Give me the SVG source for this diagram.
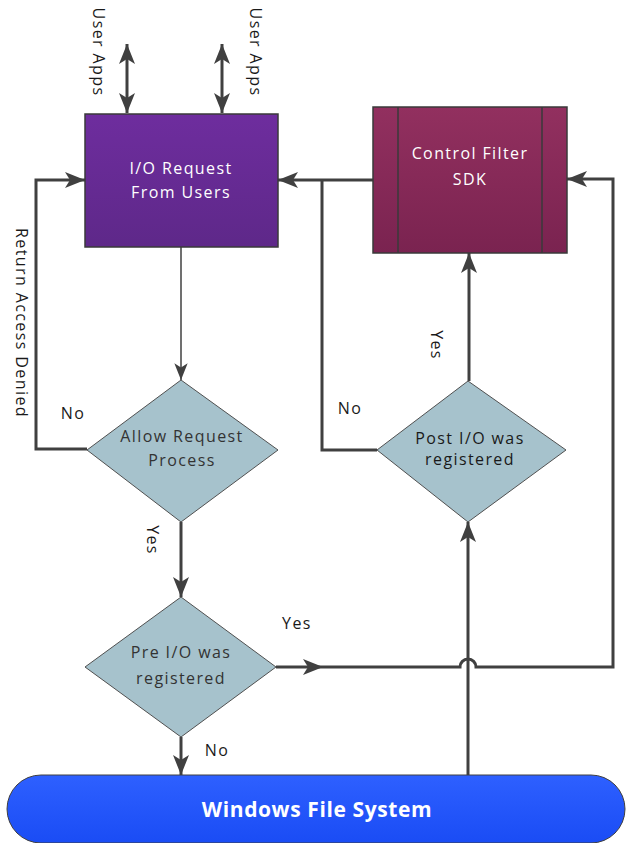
<svg xmlns="http://www.w3.org/2000/svg" width="626" height="843" viewBox="0 0 626 843">
<style>
.ln{fill:none;stroke:#404040;stroke-width:3}
.thin{fill:none;stroke:#404040;stroke-width:1.5}
.t{font-family:"Open Sans","DejaVu Sans",sans-serif;font-size:16px;letter-spacing:1.4px;text-anchor:middle}
.wt{fill:#ffffff}
.dk{fill:#333333}
.lb{fill:#1a1a1a}
.dia{fill:#a6c2cc;stroke:#505050;stroke-width:1}
</style>
<defs>
<linearGradient id="gp" x1="0" y1="0" x2="0" y2="1"><stop offset="0" stop-color="#6e2d9e"/><stop offset="1" stop-color="#5e2889"/></linearGradient>
<linearGradient id="gm" x1="0" y1="0" x2="0" y2="1"><stop offset="0" stop-color="#92305f"/><stop offset="1" stop-color="#7a2350"/></linearGradient>
<linearGradient id="gb" x1="0" y1="0" x2="0" y2="1"><stop offset="0" stop-color="#2e60ff"/><stop offset="1" stop-color="#1a4cf5"/></linearGradient>
<marker id="ah" viewBox="-20 -9 21 18" refX="0" refY="0" markerWidth="21" markerHeight="18" markerUnits="userSpaceOnUse" orient="auto-start-reverse">
<path d="M0,0 L-20,-8 L-15,0 L-20,8 Z" fill="#404040"/>
</marker>
<marker id="ahs" viewBox="-20 -9 21 18" refX="0" refY="0" markerWidth="18" markerHeight="15" markerUnits="userSpaceOnUse" orient="auto">
<path d="M0,0 L-20,-8 L-15,0 L-20,8 Z" fill="#404040"/>
</marker>
</defs>
<g id="connectors">
<path class="ln" d="M127,44 V113" marker-start="url(#ah)" marker-end="url(#ah)"/>
<path class="ln" d="M222,44 V113" marker-start="url(#ah)" marker-end="url(#ah)"/>
<path class="thin" d="M181,247 V380" marker-end="url(#ahs)"/>
<path class="ln" d="M87,449 H36 V180 H85" marker-end="url(#ah)"/>
<path class="ln" d="M181,522 V597" marker-end="url(#ah)"/>
<path class="ln" d="M181,737 V775" marker-end="url(#ah)"/>
<path class="ln" d="M276,667 H323" marker-end="url(#ah)"/>
<path class="ln" d="M323,667 H460 A8,8 0 0 1 476,667 H613 V179 H567" marker-end="url(#ah)"/>
<path class="ln" d="M468,775 V522" marker-end="url(#ah)"/>
<path class="ln" d="M469,381 V253" marker-end="url(#ah)"/>
<path class="ln" d="M373,180 H278" marker-end="url(#ah)"/>
<path class="ln" d="M377,450 H322 V180"/>
</g>
<g id="io-request">
<rect x="85" y="114" width="193" height="133" fill="url(#gp)" stroke="#3a3a3a" stroke-width="1.5"/>
<text class="t wt" x="181" y="174">I/O Request</text>
<text class="t wt" x="181" y="198">From Users</text>
</g>
<g id="control-filter">
<rect x="373" y="107" width="194" height="146" fill="url(#gm)" stroke="#3a3a3a" stroke-width="1.5"/>
<line x1="398" y1="107" x2="398" y2="253" stroke="#3a3a3a" stroke-width="1.5"/>
<line x1="542" y1="107" x2="542" y2="253" stroke="#3a3a3a" stroke-width="1.5"/>
<text class="t wt" x="470" y="159">Control Filter</text>
<text class="t wt" x="470" y="185">SDK</text>
</g>
<g id="allow-request">
<polygon class="dia" points="181,380 278,450 181,522 87,450"/>
<text class="t dk" x="182" y="442">Allow Request</text>
<text class="t dk" x="182" y="466">Process</text>
</g>
<g id="post-io">
<polygon class="dia" points="468,381 566,450 468,522 377,450"/>
<text class="t lb" x="470" y="444">Post I/O was</text>
<text class="t lb" x="470" y="465">registered</text>
</g>
<g id="pre-io">
<polygon class="dia" points="181,597 276,667 181,737 85,667"/>
<text class="t dk" x="181" y="658">Pre I/O was</text>
<text class="t dk" x="181" y="684">registered</text>
</g>
<g id="windows-fs">
<rect x="7" y="775" width="618" height="68" rx="34" ry="34" fill="url(#gb)" stroke="#404040" stroke-width="1"/>
<text x="317" y="817" font-family="Open Sans,DejaVu Sans,sans-serif" font-size="21" font-weight="bold" letter-spacing="0.6" fill="#ffffff" text-anchor="middle">Windows File System</text>
</g>
<g id="labels">
<text class="t lb" transform="translate(93,52) rotate(90)">User Apps</text>
<text class="t lb" transform="translate(250,52) rotate(90)">User Apps</text>
<text class="t lb" transform="translate(16,323) rotate(90)">Return Access Denied</text>
<text class="t lb" x="73" y="419">No</text>
<text class="t lb" x="350" y="414">No</text>
<text class="t lb" x="217" y="756">No</text>
<text class="t lb" x="297" y="629">Yes</text>
<text class="t lb" transform="translate(147,540) rotate(90)">Yes</text>
<text class="t lb" transform="translate(431,345) rotate(90)">Yes</text>
</g>
</svg>
